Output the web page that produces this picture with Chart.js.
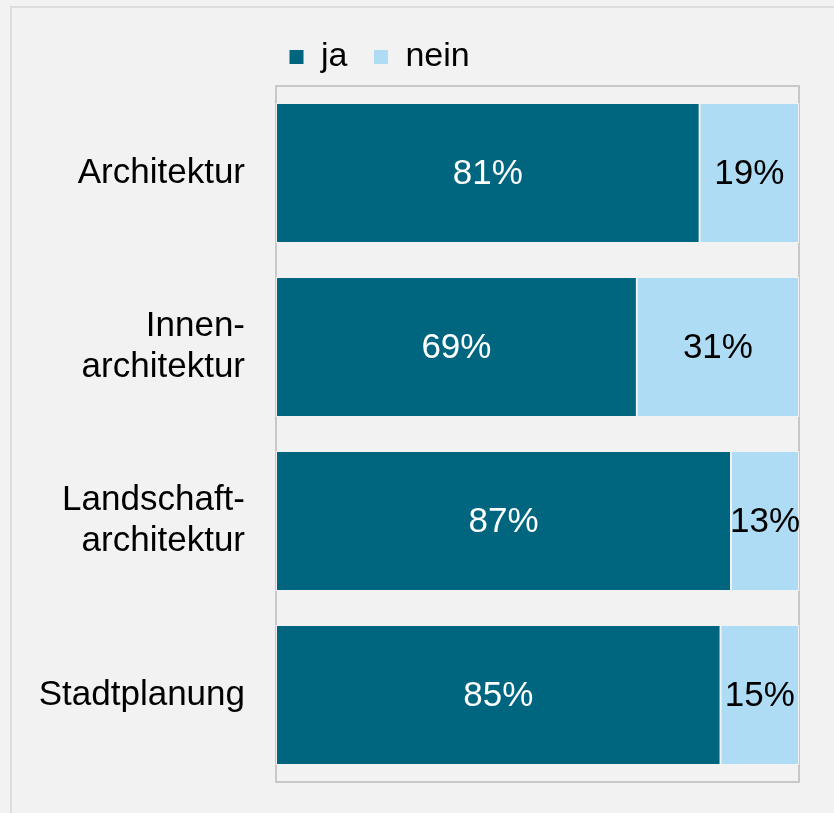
<!DOCTYPE html>
<html>
<head>
<meta charset="utf-8">
<script src="https://cdn.jsdelivr.net/npm/chart.js@4.4.0/dist/chart.umd.min.js"></script>
<style>
  html, body { margin: 0; padding: 0; background: #f2f2f2; }
  canvas { display: block; }
</style>
</head>
<body>
<canvas id="chart" width="834" height="813"></canvas>
<script>
// data
var categories = ['Architektur', ['Innen-', 'architektur'], ['Landschaft-', 'architektur'], 'Stadtplanung'];
var seriesNames = ['ja', 'nein'];
var jaValues = [81, 69, 87, 85];
var neinValues = [19, 31, 13, 15];

var colJa = 'rgb(0,102,128)';
var colNein = 'rgb(174,220,244)';
var fontFam = '"Liberation Sans", Arial, sans-serif';

// outer frame + plot frame
var framePlugin = {
  id: 'frames',
  beforeDraw: function (chart) {
    var c = chart.ctx;
    c.save();
    c.fillStyle = '#f2f2f2';
    c.fillRect(0, 0, chart.width, chart.height);
    c.strokeStyle = '#dcdcdc';
    c.lineWidth = 2;
    c.strokeRect(11, 7, 1000, 1000);
    c.restore();
  },
  beforeDatasetsDraw: function (chart) {
    var a = chart.chartArea;
    var c = chart.ctx;
    c.save();
    c.strokeStyle = '#c8c8c8';
    c.lineWidth = 2;
    c.strokeRect(a.left, a.top, a.right - a.left, a.bottom - a.top);
    c.restore();
  }
};

// move legend where it sits in the picture
var legendPos = {
  id: 'legendPos',
  afterLayout: function (chart) {
    var lg = chart.legend;
    lg.left = 263;
    lg.right = 620;
    lg.top = 14;
    lg.bottom = 100;
  }
};

// percent labels in the segments
var valueLabels = {
  id: 'valueLabels',
  afterDatasetsDraw: function (chart) {
    var c = chart.ctx;
    c.save();
    c.font = '35px ' + fontFam;
    c.textAlign = 'center';
    c.textBaseline = 'middle';
    chart.data.datasets.forEach(function (ds, i) {
      var meta = chart.getDatasetMeta(i);
      c.fillStyle = i === 0 ? '#ffffff' : '#000000';
      meta.data.forEach(function (bar, j) {
        var x = (bar.x + bar.base) / 2;
        c.fillText(ds.data[j] + '%', x, bar.y + 1);
      });
    });
    c.restore();
  }
};

new Chart(document.getElementById('chart'), {
  type: 'bar',
  data: {
    labels: categories,
    datasets: [
      {
        label: seriesNames[0],
        data: jaValues,
        backgroundColor: colJa,
        borderColor: '#f2f2f2',
        borderWidth: 1,
        borderSkipped: false
      },
      {
        label: seriesNames[1],
        data: neinValues,
        backgroundColor: colNein,
        borderColor: '#f2f2f2',
        borderWidth: 1,
        borderSkipped: false
      }
    ]
  },
  options: {
    indexAxis: 'y',
    responsive: false,
    animation: false,
    categoryPercentage: 0.805,
    barPercentage: 1,
    layout: { padding: { top: 16, right: 35, bottom: 31, left: 0 } },
    scales: {
      x: {
        stacked: true,
        min: 0,
        max: 100,
        display: false
      },
      y: {
        stacked: true,
        grid: { display: false, drawTicks: false },
        border: { display: false },
        ticks: {
          color: '#000000',
          padding: 31,
          font: { family: fontFam, size: 35, lineHeight: 1.17 }
        },
        afterFit: function (scale) {
          scale.width = 276;
          scale.paddingTop = 0;
          scale.paddingBottom = 0;
        }
      }
    },
    plugins: {
      legend: {
        position: 'top',
        align: 'start',
        labels: {
          color: '#000000',
          boxWidth: 15,
          boxHeight: 15,
          padding: 26,
          font: { family: fontFam, size: 34 }
        }
      },
      tooltip: { enabled: false }
    }
  },
  plugins: [framePlugin, legendPos, valueLabels]
});
</script>
</body>
</html>
